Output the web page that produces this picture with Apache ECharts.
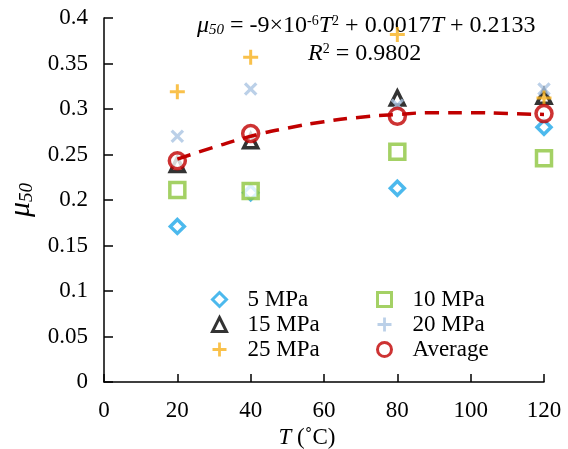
<!DOCTYPE html>
<html>
<head>
<meta charset="utf-8">
<script src="https://cdn.jsdelivr.net/npm/echarts@6/dist/echarts.min.js"></script>
<style>
  html, body { margin: 0; padding: 0; background: #fff; }
  #main { width: 568px; height: 449px; }
</style>
</head>
<body>
<div id="main"></div>
<script>
var temps = [20, 40, 80, 120];
var mpa5 = [0.171, 0.208, 0.213, 0.280];
var mpa10 = [0.211, 0.210, 0.253, 0.246];
var mpa15 = [0.239, 0.265, 0.312, 0.314];
var mpa20 = [0.270, 0.322, 0.304, 0.322];
var mpa25 = [0.319, 0.357, 0.382, 0.312];
var average = [0.243, 0.273, 0.292, 0.295];
var trendT = [20, 30, 40, 50, 60, 70, 80, 90, 100, 110, 120];
var trendMu = [0.245, 0.258, 0.270, 0.279, 0.286, 0.291, 0.294, 0.296, 0.296, 0.295, 0.294];

function pairs(ys, xs) {
  return ys.map(function (v, i) { return [xs[i], v]; });
}

var font = '"Liberation Serif", "Times New Roman", serif';
var plus = 'path://M4,0H6V4H10V6H6V10H4V6H0V4H4Z';

function hollow(name, data, symbol, size, color) {
  return {
    name: name,
    type: 'scatter',
    data: pairs(data, temps),
    symbol: symbol,
    symbolSize: size,
    itemStyle: { color: '#fff', borderColor: color, borderWidth: 3.5 },
    z: 3
  };
}

var legendText = { fontFamily: font, fontSize: 23, color: '#000', padding: [0, 0, 0, 16] };

var myChart = echarts.init(document.getElementById('main'));
var option = {
  backgroundColor: '#fff',
  animation: false,
  textStyle: { fontFamily: font },
  grid: { left: 104, right: 24, top: 18, bottom: 67, outerBoundsMode: 'none' },
  legend: [
    {
      orient: 'vertical',
      left: 206, top: 283,
      itemWidth: 14, itemHeight: 14, itemGap: 2,
      itemStyle: { borderWidth: 3 },
      textStyle: legendText,
      data: ['5 MPa', '15 MPa', '25 MPa']
    },
    {
      orient: 'vertical',
      left: 371, top: 283,
      itemWidth: 14, itemHeight: 14, itemGap: 2,
      itemStyle: { borderWidth: 3 },
      textStyle: legendText,
      data: ['10 MPa', '20 MPa', 'Average']
    }
  ],
  xAxis: {
    type: 'value',
    min: 0, max: 120, interval: 20,
    name: '{i|T} (˚C)',
    nameLocation: 'middle',
    nameGap: 43,
    nameTextStyle: {
      fontFamily: font, fontSize: 23, color: '#000', padding: [0, 34, 0, 0],
      rich: { i: { fontFamily: font, fontSize: 23, fontStyle: 'italic', color: '#000' } }
    },
    axisLine: { lineStyle: { color: '#000', width: 1.5 } },
    axisTick: { inside: true, length: 8, lineStyle: { color: '#000', width: 1.5 } },
    axisLabel: { fontFamily: font, fontSize: 23, color: '#000', margin: 17 },
    splitLine: { show: false }
  },
  yAxis: {
    type: 'value',
    min: 0, max: 0.4, interval: 0.05,
    name: '{m|μ}{s|50}',
    nameLocation: 'middle',
    nameGap: 62,
    nameRotate: 90,
    nameTextStyle: {
      rich: {
        m: { fontFamily: font, fontSize: 30, fontStyle: 'italic', color: '#000' },
        s: { fontFamily: font, fontSize: 19, fontStyle: 'italic', color: '#000', padding: [12, 0, 0, 0] }
      }
    },
    axisLine: { show: true, lineStyle: { color: '#000', width: 1.5 } },
    axisTick: { show: true, inside: true, length: 9, lineStyle: { color: '#000', width: 1.5 } },
    axisLabel: { fontFamily: font, fontSize: 23, color: '#000', margin: 16 },
    splitLine: { show: false }
  },
  graphic: [
    {
      type: 'text',
      left: 197, top: 14,
      style: {
        text: '{i|μ}{s|50}{n| = -9×10}{p|-6}{i|T}{p|2}{n| + 0.0017}{i|T}{n| + 0.2133}',
        rich: {
          i: { fontFamily: font, fontSize: 24, fontStyle: 'italic', fill: '#000' },
          s: { fontFamily: font, fontSize: 15, fontStyle: 'italic', fill: '#000', padding: [8, 0, 0, 0] },
          n: { fontFamily: font, fontSize: 24, fill: '#000' },
          p: { fontFamily: font, fontSize: 14, fill: '#000', padding: [0, 0, 10, 0] }
        }
      }
    },
    {
      type: 'text',
      left: 308, top: 42,
      style: {
        text: '{i|R}{p|2}{n| = 0.9802}',
        rich: {
          i: { fontFamily: font, fontSize: 24, fontStyle: 'italic', fill: '#000' },
          n: { fontFamily: font, fontSize: 24, fill: '#000' },
          p: { fontFamily: font, fontSize: 14, fill: '#000', padding: [0, 0, 10, 0] }
        }
      }
    }
  ],
  series: [
    hollow('5 MPa', mpa5, 'diamond', 14, '#1fa8e8'),
    hollow('10 MPa', mpa10, 'rect', 15, '#8dc63f'),
    hollow('15 MPa', mpa15, 'triangle', 14, '#000'),
    {
      name: '20 MPa',
      type: 'scatter',
      data: pairs(mpa20, temps),
      symbol: plus,
      symbolRotate: 45,
      symbolSize: 16,
      itemStyle: { color: '#aac4e2' },
      z: 3
    },
    {
      name: '25 MPa',
      type: 'scatter',
      data: pairs(mpa25, temps),
      symbol: plus,
      symbolSize: 15,
      itemStyle: { color: '#f7b21e' },
      z: 3
    },
    hollow('Average', average, 'circle', 16, '#c00000'),
    {
      name: 'trend',
      type: 'line',
      data: pairs(trendMu, trendT),
      smooth: true,
      showSymbol: false,
      lineStyle: { color: '#c00000', width: 3.5, type: [14, 9] },
      z: 4
    }
  ]
};

myChart.setOption(option);
</script>
</body>
</html>
